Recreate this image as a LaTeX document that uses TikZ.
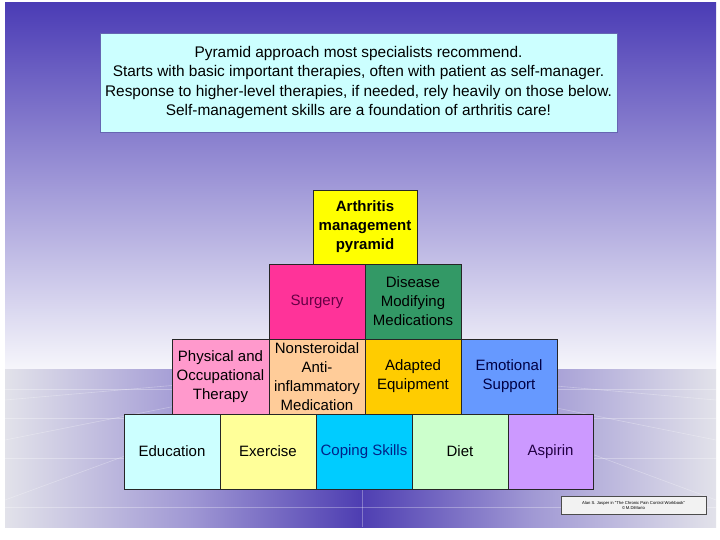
\documentclass[tikz,border=0pt]{standalone}
\usepackage{fontspec}
\setmainfont{Liberation Sans}
\definecolor{skytop}{HTML}{4B3CB5}
\definecolor{skybot}{HTML}{F6F6FB}
\definecolor{flzero}{HTML}{E2E2EA}
\definecolor{flone}{HTML}{A098D4}
\definecolor{fltwo}{HTML}{4E3EB2}
\definecolor{tbox}{HTML}{CCFFFF}
\definecolor{cyellow}{HTML}{FFFF00}
\definecolor{csurg}{HTML}{FF3399}
\definecolor{tsurg}{HTML}{660044}
\definecolor{cdmm}{HTML}{339966}
\definecolor{cpot}{HTML}{FF99CC}
\definecolor{cnsaid}{HTML}{FFCC99}
\definecolor{cadapt}{HTML}{FFCC00}
\definecolor{cemo}{HTML}{6699FF}
\definecolor{temo}{HTML}{000044}
\definecolor{cedu}{HTML}{CCFFFF}
\definecolor{cex}{HTML}{FFFF99}
\definecolor{ccope}{HTML}{00CCFF}
\definecolor{tcope}{HTML}{002288}
\definecolor{cdiet}{HTML}{CCFFCC}
\definecolor{casp}{HTML}{CC99FF}
\definecolor{tasp}{HTML}{220044}
\pgfdeclarehorizontalshading{floorshade}{100bp}{color(0bp)=(flzero); color(25bp)=(flzero); color(38bp)=(flone); color(50bp)=(fltwo); color(62bp)=(flone); color(75bp)=(flzero); color(100bp)=(flzero)}
\begin{document}
\begin{tikzpicture}[x=1pt,y=-1pt,
  blk/.style={draw=black!85, line width=0.8pt, inner sep=0pt, outer sep=0pt,
    align=center, font=\fontsize{15}{19}\selectfont, text=black},
  floorline/.style={white, opacity=0.3, line width=0.6pt}]
\useasboundingbox (0,0) rectangle (720,540);
\fill[white] (0,0) rectangle (720,540);
% sky
\shade[top color=skytop, bottom color=skybot] (5,3) rectangle (716,369);
% floor
\shade[shading=floorshade] (5,369) rectangle (716,527);
\draw[floorline] (5,389) -- (716,389);
\draw[floorline] (5,418) -- (716,418);
\draw[floorline] (5,458) -- (716,458);
\draw[floorline] (5,507) -- (716,507);
\draw[floorline] (362,369) -- (362,527);
\draw[floorline] (5,400) -- (362,369);
\draw[floorline] (5,440) -- (362,369);
\draw[floorline] (5,500) -- (362,369);
\draw[floorline] (716,400) -- (362,369);
\draw[floorline] (716,440) -- (362,369);
\draw[floorline] (716,500) -- (362,369);
% text box
\node[draw=black!50!blue!60, line width=0.8pt, fill=tbox, minimum width=517, minimum height=99,
  inner sep=0pt, align=center, font=\fontsize{15.4}{19.5}\selectfont] (intro) at (358.5,82.5)
  {Pyramid approach most specialists recommend.\\
   Starts with basic important therapies, often with patient as self-manager.\\
   Response to higher-level therapies, if needed, rely heavily on those below.\\
   Self-management skills are a foundation of arthritis care!};
% pyramid
\node[blk, fill=cyellow, minimum width=104, minimum height=74, font=\fontsize{15}{19}\selectfont\bfseries] (top) at (365,227) {Arthritis\\management\\pyramid};
\node[blk, fill=csurg, text=tsurg, minimum width=96, minimum height=75] (surg) at (317,301.5) {Surgery};
\node[blk, fill=cdmm, minimum width=96, minimum height=75] (dmm) at (413,301.5) {Disease\\Modifying\\Medications};
\node[blk, fill=cpot, minimum width=97, minimum height=75] (pot) at (220.5,376.5) {Physical and\\Occupational\\Therapy};
\node[blk, fill=cnsaid, minimum width=96, minimum height=75] (nsaid) at (317,376.5) {Nonsteroidal\\Anti-\\inflammatory\\Medication};
\node[blk, fill=cadapt, minimum width=96, minimum height=75] (adapt) at (413,376.5) {Adapted\\Equipment};
\node[blk, fill=cemo, text=temo, minimum width=96, minimum height=75] (emo) at (509,376.5) {Emotional\\Support};
\node[blk, fill=cedu, minimum width=96, minimum height=75] (edu) at (172,451.5) {Education};
\node[blk, fill=cex, minimum width=96, minimum height=75] (ex) at (268,451.5) {Exercise};
\node[blk, fill=ccope, text=tcope, minimum width=96, minimum height=75] (cope) at (364,451.5) {Coping Skills};
\node[blk, fill=cdiet, minimum width=96, minimum height=75] (diet) at (460,451.5) {Diet};
\node[blk, fill=casp, text=tasp, minimum width=85, minimum height=75] (asp) at (550.5,451.5) {Aspirin};
% credit
\node[draw=black!70, line width=0.6pt, fill=black!5, minimum width=145, minimum height=18,
  inner sep=0pt, align=center, font=\fontsize{4.2}{5}\selectfont] (credit) at (633.5,505)
  {Alan S. Jasper in ``The Chronic Pain Control Workbook''\\\copyright\,M.DiMario};
\end{tikzpicture}
\end{document}
